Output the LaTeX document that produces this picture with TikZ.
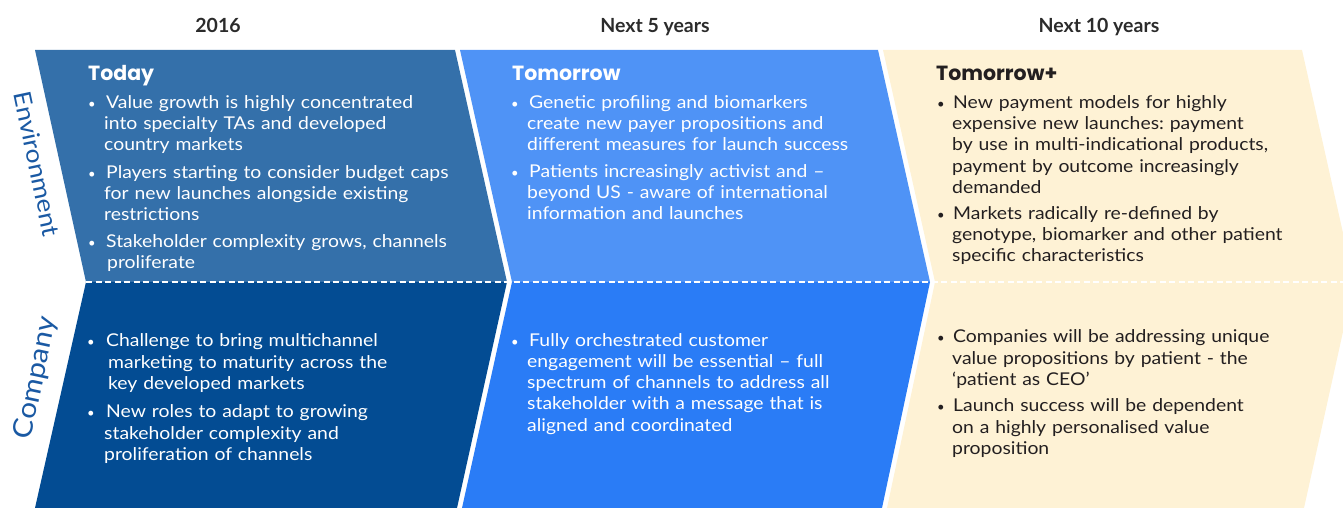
\documentclass[tikz,border=0pt]{standalone}
\usepackage{fontspec}
\setmainfont{Lato}
\newfontfamily\bodyfont{Lato}[FakeStretch=1.1]
\newfontfamily\sidefont{Lato}[FakeStretch=1.1]
\newfontfamily\titlefont{Poppins}
\definecolor{cAtop}{HTML}{3470AA}
\definecolor{cAbot}{HTML}{034C93}
\definecolor{cBtop}{HTML}{4F93F6}
\definecolor{cBbot}{HTML}{2A7CF6}
\definecolor{cC}{HTML}{FEF2D5}
\definecolor{sideblue}{HTML}{1A59A3}
\definecolor{hdrgray}{HTML}{2B2B2B}
\definecolor{darktext}{HTML}{231F20}
\frenchspacing
\begin{document}
\begin{tikzpicture}[x=1pt,y=-1pt,
  body/.style={font=\bodyfont\fontsize{17.6}{21.3}\selectfont, text width=420pt, align=left, inner sep=0pt, anchor=base west},
  bul/.style={font=\fontsize{13}{13}\selectfont, inner sep=0pt, anchor=base},
  ttl/.style={font=\titlefont\bfseries\fontsize{20.5}{24}\selectfont, inner sep=0pt, anchor=base west},
  hdr/.style={font=\bfseries\fontsize{19.5}{22}\selectfont, text=hdrgray, inner sep=0pt, anchor=base},
  side/.style={font=\sidefont, text=sideblue, inner sep=0pt},
  divider/.style={white, line width=2pt, dash pattern=on 6pt off 3.5pt}]
\useasboundingbox (0,0) rectangle (1343,508);
\clip (0,0) rectangle (1343,508);
% column shapes
\fill[cAtop] (35,50) -- (455,50) -- (507,282) -- (86,282) -- cycle;
\fill[cAbot] (86,282) -- (507,282) -- (457,508) -- (35,508) -- cycle;
\fill[cBtop] (460,50) -- (878,50) -- (930,282) -- (512,282) -- cycle;
\fill[cBbot] (512,282) -- (930,282) -- (882,508) -- (462,508) -- cycle;
\fill[cC] (883,50) -- (1302,50) -- (1354,282) -- (935,282) -- cycle;
\fill[cC] (935,282) -- (1354,282) -- (1304,508) -- (887,508) -- cycle;
\coordinate (dl) at (86,282);
\coordinate (dr) at (1343,282);
\draw[divider] (dl) -- (dr);
% headers
\node[hdr] (h1) at (218,33) {2016};
\node[hdr] (h2) at (655,33) {Next 5 years};
\node[hdr] (h3) at (1099,33) {Next 10 years};
% side labels
\node[side, font=\sidefont\fontsize{24}{28}\selectfont, rotate=-78] (env) at (37,164) {Environment};
\node[side, font=\sidefont\fontsize{27}{30}\selectfont, rotate=78] (comp) at (36,378) {Company};
% titles
\node[ttl, text=white] (t1) at (88,80.7) {Today};
\node[ttl, text=white] (t2) at (512,80.7) {Tomorrow};
\node[ttl, text=darktext] (t3) at (936,80.7) {Tomorrow+};
% column 1 environment
\begin{scope}[every node/.append style={text=white}]
\node[bul] (a1b) at (92,108.3) {•};
\node[body] (a1) at (104,108.3) {\hspace*{2pt}Value growth is highly concentrated\\ into specialty TAs and developed\\ country markets};
\node[bul] (a2b) at (92,178.3) {•};
\node[body] (a2) at (104,178.3) {\hspace*{2pt}Players starting to consider budget caps\\ for new launches alongside existing\\ restrictions};
\node[bul] (a3b) at (92,247.3) {•};
\node[body] (a3) at (104,247.3) {\hspace*{2pt}Stakeholder complexity grows, channels\\ \hspace*{3pt}proliferate};
% column 1 company
\node[bul] (a4b) at (91,346.7) {•};
\node[body] (a4) at (104,346.7) {\hspace*{2pt}Challenge to bring multichannel\\ \hspace*{4pt}marketing to maturity across the\\ \hspace*{4pt}key developed markets};
\node[bul] (a5b) at (91,417.7) {•};
\node[body] (a5) at (104,417.7) {\hspace*{2pt}New roles to adapt to growing\\ stakeholder complexity and\\ proliferation of channels};
% column 2 environment
\node[bul] (b1b) at (515,108.3) {•};
\node[body] (b1) at (527,108.3) {\hspace*{2pt}Genetic profiling and biomarkers\\ create new payer propositions and\\ different measures for launch success};
\node[bul] (b2b) at (515,177.3) {•};
\node[body] (b2) at (527,177.3) {\hspace*{2pt}Patients increasingly activist and –\\ beyond US - aware of international\\ information and launches};
% column 2 company
\node[bul] (b3b) at (515,346) {•};
\node[body] (b3) at (527,346) {\hspace*{2pt}Fully orchestrated customer\\ engagement will be essential – full\\ spectrum of channels to address all\\ stakeholder with a message that is\\ aligned and coordinated};
\end{scope}
\begin{scope}[every node/.append style={text=darktext}]
% column 3 environment
\node[bul] (c1b) at (941,108.3) {•};
\node[body] (c1) at (952,108.3) {\hspace*{1pt}New payment models for highly\\ expensive new launches: payment\\ by use in multi-indicational products,\\ payment by outcome increasingly\\ demanded};
\node[bul] (c2b) at (941,219.3) {•};
\node[body] (c2) at (952,219.3) {\hspace*{1pt}Markets radically re-defined by\\ genotype, biomarker and other patient\\ specific characteristics};
% column 3 company
\node[bul] (c3b) at (941,342.7) {•};
\node[body] (c3) at (952,342.7) {\hspace*{1pt}Companies will be addressing unique\\ value propositions by patient - the\\ ‘patient as CEO’};
\node[bul] (c4b) at (941,411.7) {•};
\node[body] (c4) at (952,411.7) {\hspace*{1pt}Launch success will be dependent\\ on a highly personalised value\\ proposition};
\end{scope}
\end{tikzpicture}
\end{document}
